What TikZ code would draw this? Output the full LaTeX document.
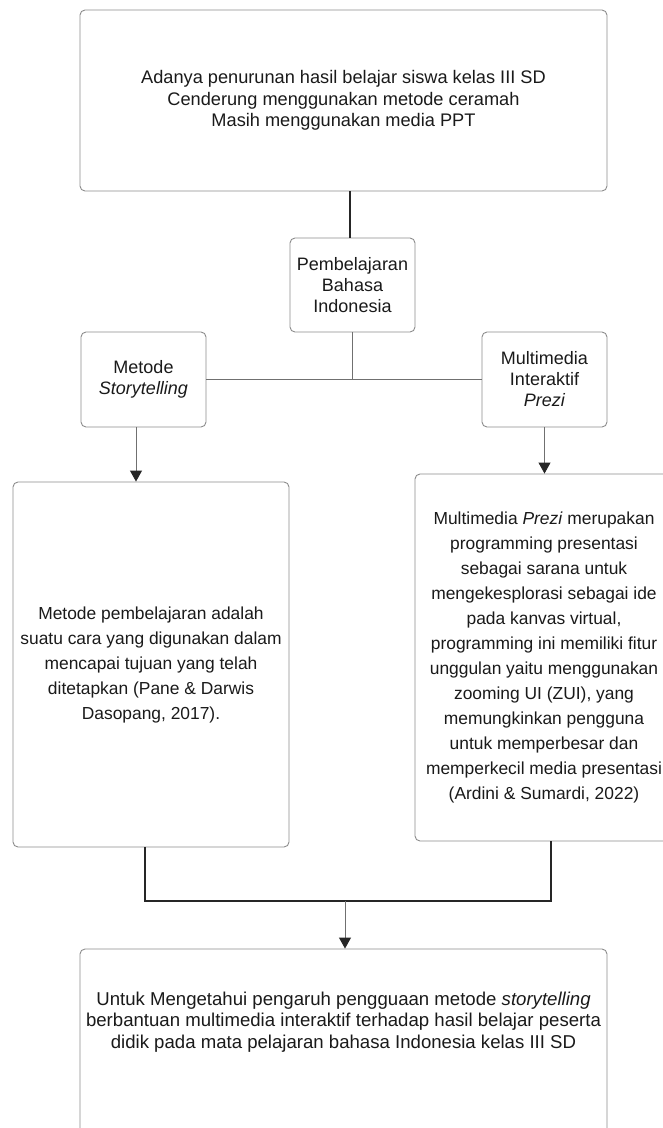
\documentclass[tikz,border=0pt]{standalone}
\usepackage{fontspec}
\setmainfont{Liberation Sans}
\usetikzlibrary{arrows.meta}
\definecolor{boxgray}{HTML}{8C8C8C}
\definecolor{linegray}{HTML}{707070}
\definecolor{ink}{HTML}{1A1A1A}
\definecolor{dark}{HTML}{262626}
\begin{document}
\begin{tikzpicture}[x=1pt,y=-1pt,
  box/.style={draw=boxgray, line width=0.9pt, rounded corners=5pt, fill=white,
    inner sep=0pt, text=ink, align=center},
  txt/.style={inner sep=0pt, text=ink, align=center},
  conn/.style={draw=linegray, line width=0.9pt},
  heavy/.style={draw=dark, line width=1.6pt},
  arr/.style={conn, -{Triangle[width=12pt,length=11pt,color=dark]}},
  fbig/.style={font=\fontsize{18.2}{21.5}\selectfont},
  fbottom/.style={font=\fontsize{18.6}{21.5}\selectfont},
  fsmall/.style={font=\fontsize{18}{21}\selectfont},
  fbody/.style={font=\fontsize{17.4}{25}\selectfont}]
\useasboundingbox (0,0) rectangle (662,1128);

% boxes
\node[box, fbig, minimum width=527pt, minimum height=181pt] (top) at (343.5,100.5)
  {Adanya penurunan hasil belajar siswa kelas III SD\\
   Cenderung menggunakan metode ceramah\\
   Masih menggunakan media PPT};
\node[box, fsmall, minimum width=125pt, minimum height=94pt] (pb) at (352.5,285)
  {Pembelajaran\\Bahasa\\Indonesia};
\node[box, fsmall, minimum width=125pt, minimum height=95pt] (ms) at (143.5,379.5)
  {Metode\\\textit{Storytelling}};
\node[box, fsmall, minimum width=125pt, minimum height=95pt] (mi) at (544.5,379.5)
  {Multimedia\\Interaktif\\\textit{Prezi}};
\node[box, fbody, minimum width=276pt, minimum height=365pt] (lb) at (151,664.5)
  {Metode pembelajaran adalah\\
   suatu cara yang digunakan dalam\\
   mencapai tujuan yang telah\\
   ditetapkan (Pane \& Darwis\\
   Dasopang, 2017).};
\node[box, fbody, minimum width=258pt, minimum height=367pt] (rb) at (544,657.5)
  {Multimedia \textit{Prezi} merupakan\\
   programming presentasi\\
   sebagai sarana untuk\\
   mengekesplorasi sebagai ide\\
   pada kanvas virtual,\\
   programming ini memiliki fitur\\
   unggulan yaitu menggunakan\\
   zooming UI (ZUI), yang\\
   memungkinkan pengguna\\
   untuk memperbesar dan\\
   memperkecil media presentasi\\
   (Ardini \& Sumardi, 2022)};
\node[box, minimum width=527pt, minimum height=220pt] (bb) at (343.5,1059) {};
\node[txt, fbottom] (bbt) at (343.5,1022)
  {Untuk Mengetahui pengaruh pengguaan metode \textit{storytelling}\\
   berbantuan multimedia interaktif terhadap hasil belajar peserta\\
   didik pada mata pelajaran bahasa Indonesia kelas III SD};

% connectors
\draw[heavy] ([xshift=-2.5pt]pb.north) -- ([xshift=-2.5pt]pb.north |- top.south);
\draw[conn] (pb.south) -- (pb.south |- ms.east);
\draw[conn] (ms.east) -- (mi.west);
\draw[arr] ([xshift=-7.5pt]ms.south) -- ([xshift=-7.5pt]ms.south |- lb.north);
\draw[arr] (mi.south) -- (mi.south |- rb.north);
\coordinate (jl) at ([xshift=-6pt]lb.south |- 0,901);
\coordinate (jr) at ([xshift=7pt]rb.south |- 0,901);
\coordinate (jm) at (345,901);
\draw[heavy] ([xshift=-6pt]lb.south) -- (jl) -- (jr) -- ([xshift=7pt]rb.south);
\draw[arr] (jm) -- (jm |- bb.north);
\end{tikzpicture}
\end{document}
